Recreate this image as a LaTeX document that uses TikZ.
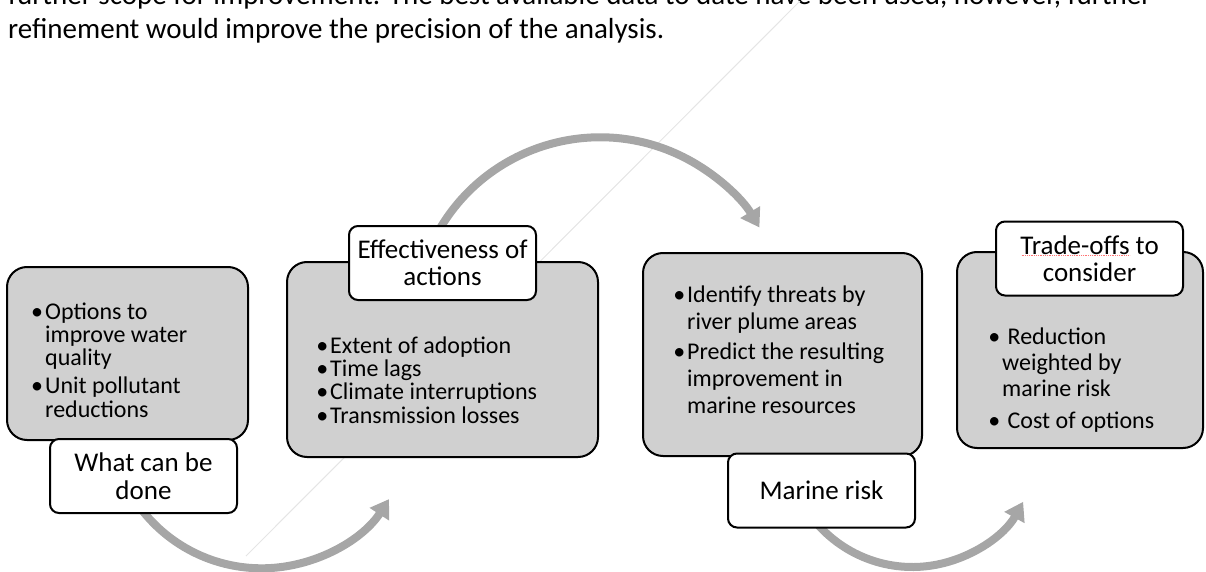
\documentclass[tikz,border=0pt]{standalone}
\usepackage{fontspec}
\setmainfont{Carlito}
\usetikzlibrary{arrows.meta, positioning}
\definecolor{panelgray}{RGB}{208,208,208}
\definecolor{arrowgray}{RGB}{166,166,166}
\tikzstyle{panelbox} = [
  rectangle, draw, line width=2pt,
  rounded corners=20pt, fill=panelgray
]
\tikzstyle{flowarrow} = [draw=arrowgray, line width=8pt, -{Triangle[width=22pt,length=18pt]}]
\newcommand{\bul}{\llap{\textbullet\hspace{2pt}}}

\begin{document}
\begin{tikzpicture}[x=1pt, y=-1pt]

\tikzstyle{titlebox} = [rectangle, draw, line width=2pt, rounded corners=9pt, fill=white, minimum width=187pt, minimum height=74pt, align=center, inner sep=0pt, font=\fontsize{27}{27.5}\selectfont]
\tikzstyle{bodytext} = [anchor=base west, align=left, inner sep=0pt, font=\fontsize{24}{23.3}\selectfont]

\useasboundingbox (0,0) rectangle (1206,572);
\clip (0,0) rectangle (1206,572);

% Text above the figure
\node (intro1) [anchor=base west, inner sep=0pt, font=\fontsize{29}{34}\selectfont] at (8,5) {further scope for improvement. The best available data to date have been used, however, further};
\node (intro2) [anchor=base west, inner sep=0pt, font=\fontsize{29}{34}\selectfont] at (8,39) {refinement would improve the precision of the analysis.};

% faint stray line
\draw [black!10, line width=1pt] (800,1) -- (246,556);

% Arc centres
\coordinate (arcA) at (261.6,416.3);
\coordinate (arcB) at (600,323.3);
\coordinate (arcC) at (912.4,440.4);

% Arrows
\draw [flowarrow] ([shift={(145:152)}]arcA) arc[start angle=145, end angle=33, radius=152];
\draw [flowarrow] ([shift={(-152:186)}]arcB) arc[start angle=-152, end angle=-31, radius=186];
\draw [flowarrow] ([shift={(140:126.6)}]arcC) arc[start angle=140, end angle=29, radius=126.6];

% Panels
\node (whatbox) [panelbox, minimum width=241pt, minimum height=173pt] at (127.5,353.5) {};
\node (effbox) [panelbox, minimum width=311pt, minimum height=195pt] at (442.5,359.5) {};
\node (riskbox) [panelbox, minimum width=279pt, minimum height=203pt] at (782.5,354.5) {};
\node (tradebox) [panelbox, minimum width=246pt, minimum height=196pt] at (1080,350) {};

% Titles
\node (whatttl) [titlebox] at ([xshift=16pt, yshift=-35pt]whatbox.south) {What can be\\done};
\node (effttl) [titlebox] at ([yshift=-2pt]effbox.north) {Effectiveness of\\actions};
\node (riskttl) [titlebox] at ([xshift=39pt, yshift=-33.5pt]riskbox.south) {Marine risk};
\node (tradettl) [titlebox] at ([xshift=9.5pt, yshift=-7.5pt]tradebox.north) {Trade-offs to\\consider};

% spell-check mark under Trade-offs
\draw [red!55, line width=0.8pt, densely dotted] ([xshift=-68pt, yshift=-35pt]tradettl.north) -- ([xshift=40pt, yshift=-35pt]tradettl.north);

% Bullet text (anchored on the last baseline)
\node (whattxt) [bodytext] at (45,417) {\bul Options to\\improve water\\quality\\[4.5pt]\bul Unit pollutant\\reductions};
\node (efftxt) [bodytext] at (330,423) {\bul Extent of adoption\\\bul Time lags\\\bul Climate interruptions\\\bul Transmission losses};
\node (risktxt) [bodytext, font=\fontsize{24}{26.7}\selectfont] at (687,413) {\bul Identify threats by\\river plume areas\\[3.3pt]\bul Predict the resulting\\improvement in\\marine resources};
\node (tradetxt) [bodytext, font=\fontsize{24}{26}\selectfont] at (1002,428) {\bul\ Reduction\\weighted by\\marine risk\\[6pt]\bul\ Cost of options};

\end{tikzpicture}
\end{document}
